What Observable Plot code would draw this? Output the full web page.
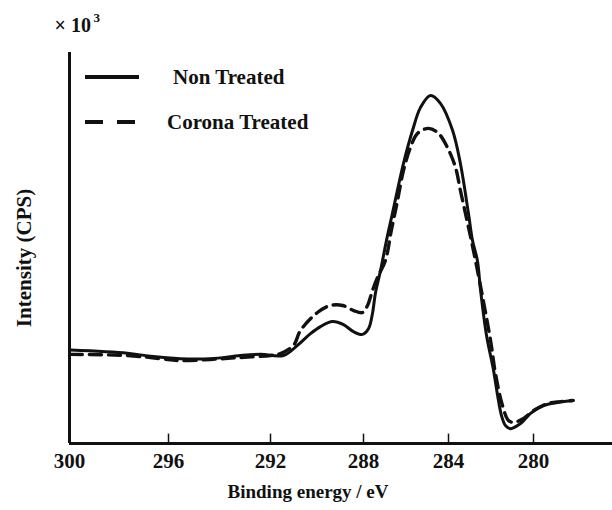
<!DOCTYPE html>
<html>
<head>
<meta charset="utf-8">
<script src="https://cdn.jsdelivr.net/npm/d3@7"></script>
<script src="https://cdn.jsdelivr.net/npm/@observablehq/plot@0.6"></script>
<style>
  html, body { margin: 0; padding: 0; background: #fff; }
  #wrap { position: relative; width: 612px; height: 510px; }
  #legend { position: absolute; left: 0; top: 0; pointer-events: none; }
</style>
</head>
<body>
<div id="wrap"></div>
<script>
// ---- data (binding energy in eV, intensity in arbitrary units ×10³) ----
const nonTreatedEV = [299.96, 297.66, 296.73, 295.53, 294.35, 293.18, 292.39, 291.44, 290.84, 290.28, 289.85, 289.33, 288.86, 288.43, 288.04, 287.76, 287.58, 287.44, 287.2, 286.92, 286.64, 286.12, 285.69, 285.32, 284.85, 284.38, 283.81, 283.44, 283.06, 282.87, 282.64, 282.49, 282.21, 281.88, 281.69, 281.51, 281.32, 281.08, 280.61, 280.14, 279.6, 279.03, 278.38];
const nonTreatedI  = [23.9, 23.1, 22.3, 21.7, 21.7, 22.5, 22.8, 22.5, 25.1, 28.1, 29.9, 31.2, 30.4, 28.6, 27.9, 29.4, 33.2, 38.4, 44.2, 51.9, 58.8, 71.6, 80.1, 85.9, 89.0, 87.0, 80.1, 71.6, 58.8, 51.9, 46.8, 39.1, 27.6, 18.7, 12.3, 7.2, 4.6, 3.8, 5.1, 7.7, 9.7, 10.5, 11.0];

const coronaEV = [299.96, 297.66, 296.32, 295.53, 294.35, 293.18, 292.0, 291.57, 291.01, 290.71, 289.98, 289.42, 288.9, 288.43, 288.04, 287.81, 287.58, 287.34, 286.97, 286.69, 286.4, 286.12, 285.79, 285.46, 284.94, 284.47, 284.05, 283.67, 283.44, 283.2, 282.73, 282.02, 281.79, 281.46, 281.18, 280.94, 280.47, 280.0, 279.43, 278.91, 278.42];
const coronaI  = [22.8, 22.5, 21.7, 21.2, 21.5, 22.0, 22.5, 23.0, 25.1, 28.9, 33.5, 35.3, 35.3, 34.0, 33.5, 35.3, 39.1, 42.5, 46.8, 54.5, 62.1, 69.8, 75.7, 79.3, 80.6, 79.3, 75.7, 70.6, 64.7, 58.8, 46.8, 26.3, 17.9, 9.7, 5.9, 5.4, 6.4, 8.4, 10.2, 10.7, 11.0];

const xTicks = [300, 296, 292, 288, 284, 280];
const seriesNames = ["Non Treated", "Corona Treated"];
const yAxisTitle = "Intensity (CPS)";
const xAxisTitle = "Binding energy / eV";
const unitBase = "× 10";
const unitExp = "3";

const nonTreated = nonTreatedEV.map((e, i) => ({ev: e, v: nonTreatedI[i]}));
const corona = coronaEV.map((e, i) => ({ev: e, v: coronaI[i]}));

const font = "'Liberation Serif', 'DejaVu Serif', serif";

const chart = Plot.plot({
  width: 612,
  height: 510,
  marginLeft: 69,
  marginRight: 0,
  marginTop: 52,
  marginBottom: 67,
  style: {fontFamily: font, fontWeight: "bold", fontSize: "21px", color: "#111", background: "#fff"},
  x: {
    type: "linear",
    // piecewise mapping that follows the (slightly uneven) printed axis
    domain: [300, 296, 292, 288, 284, 280, 276.8],
    range: [69, 168, 270, 363, 448, 533, 612]
  },
  y: {domain: [0, 100], axis: null},
  marks: [
    Plot.axisX({ticks: xTicks, tickSize: 0, tickPadding: 10, tickFormat: d => String(d), label: null, fontSize: 21}),
    Plot.ruleX(xTicks, {x: d => d, y1: 0, y2: 2.4, stroke: "#111", strokeWidth: 1.5}),
    Plot.line(nonTreated, {x: "ev", y: "v", stroke: "#111", strokeWidth: 3, curve: "catmull-rom"}),
    Plot.line(corona, {x: "ev", y: "v", stroke: "#111", strokeWidth: 3.4, strokeDasharray: "12,7", curve: "catmull-rom"}),
    Plot.ruleX([300], {stroke: "#111", strokeWidth: 3}),
    Plot.ruleY([0], {stroke: "#111", strokeWidth: 3}),
    Plot.text([xAxisTitle], {frameAnchor: "bottom", dx: -33, dy: 54, fontSize: 19, fontWeight: "bold", fill: "#111"}),
    Plot.text([yAxisTitle], {frameAnchor: "left", textAnchor: "middle", dx: -45, dy: 10, rotate: -90, fontSize: 21, fontWeight: "bold", fill: "#111"}),
    Plot.text([unitBase], {frameAnchor: "top-left", dx: -15, dy: -35, textAnchor: "start", fontSize: 20, fontWeight: "bold", fill: "#111"}),
    Plot.text([unitExp], {frameAnchor: "top-left", dx: 24, dy: -40, textAnchor: "start", fontSize: 13, fontWeight: "bold", fill: "#111"})
  ]
});

const wrap = document.getElementById("wrap");
wrap.appendChild(chart);

// legend overlay
const ns = "http://www.w3.org/2000/svg";
const leg = document.createElementNS(ns, "svg");
leg.setAttribute("id", "legend");
leg.setAttribute("width", 612);
leg.setAttribute("height", 510);
const items = [
  {name: seriesNames[0], dash: null, y: 77, tx: 173},
  {name: seriesNames[1], dash: "18,14", y: 122, tx: 167}
];
items.forEach(it => {
  const l = document.createElementNS(ns, "line");
  l.setAttribute("x1", 85); l.setAttribute("x2", 139);
  l.setAttribute("y1", it.y); l.setAttribute("y2", it.y);
  l.setAttribute("stroke", "#111"); l.setAttribute("stroke-width", 4);
  if (it.dash) l.setAttribute("stroke-dasharray", it.dash);
  leg.appendChild(l);
  const t = document.createElementNS(ns, "text");
  t.setAttribute("x", it.tx); t.setAttribute("y", it.y + 7);
  t.setAttribute("font-family", font);
  t.setAttribute("font-weight", "bold");
  t.setAttribute("font-size", 21);
  t.setAttribute("fill", "#111");
  t.textContent = it.name;
  leg.appendChild(t);
});
wrap.appendChild(leg);
</script>
</body>
</html>
